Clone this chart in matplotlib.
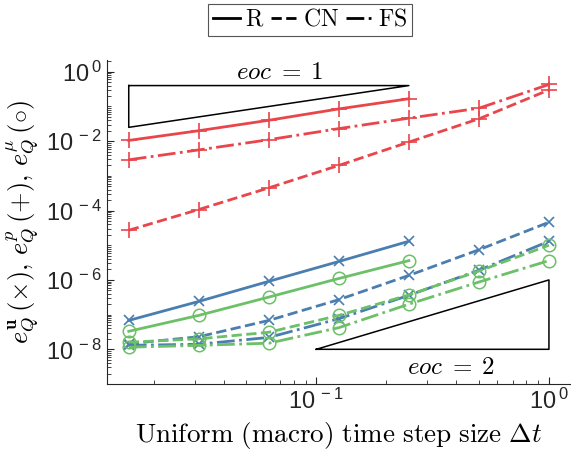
import numpy as np
import matplotlib
matplotlib.use('Agg')
import matplotlib.pyplot as plt
from matplotlib.font_manager import FontProperties
from matplotlib.ticker import FixedLocator, LogLocator, FuncFormatter, NullFormatter

# time step sizes
dt = [1/64, 1/32, 1/16, 1/8, 1/4, 1/2, 1]

# pressure errors (+)
p_R = [1.05e-2, 2.0e-2, 4.0e-2, 8.5e-2, 1.67e-1]
p_CN = [2.7e-5, 1.07e-4, 4.5e-4, 2.0e-3, 9.4e-3, 4.4e-2, 0.30]
p_FS = [2.9e-3, 5.6e-3, 1.1e-2, 2.3e-2, 4.6e-2, 8.9e-2, 0.43]

# velocity errors (x)
u_R = [6.8e-8, 2.4e-7, 9.1e-7, 3.4e-6, 1.3e-5]
u_CN = [1.45e-8, 2.3e-8, 6.8e-8, 2.7e-7, 1.35e-6, 7.4e-6, 4.6e-5]
u_FS = [1.3e-8, 1.4e-8, 2.2e-8, 7.6e-8, 3.6e-7, 1.9e-6, 1.3e-5]

# chemical potential errors (o)
mu_R = [3.3e-8, 9.5e-8, 3.2e-7, 1.1e-6, 3.6e-6]
mu_CN = [1.6e-8, 2.0e-8, 3.1e-8, 9.5e-8, 3.7e-7, 1.8e-6, 1.0e-5]
mu_FS = [1.15e-8, 1.3e-8, 1.5e-8, 4.2e-8, 2.0e-7, 8.7e-7, 3.6e-6]

# slope triangles
tri1_x = [1/64, 1/4, 1/64, 1/64]
tri1_y = [0.4, 0.4, 0.025, 0.4]
tri2_x = [0.1, 1, 1, 0.1]
tri2_y = [1e-8, 1e-8, 1e-6, 1e-8]

red = '#E8464B'
blue = '#4A7EB0'
green = '#6CC067'
axcol = '#262626'

plt.rcParams['font.family'] = ['Liberation Sans', 'DejaVu Sans']
cm = FontProperties(family='serif', math_fontfamily='cm', size=16)

fig = plt.figure(figsize=(5.71, 4.65), dpi=100)
ax = fig.add_axes([0.1874, 0.1742, 0.8106, 0.697])

lw = 2.0
ax.plot(dt[:5], p_R, '-', color=red, lw=lw, marker='+', ms=11, mew=1.2)
ax.plot(dt, p_CN, '--', color=red, lw=lw, marker='+', ms=11, mew=1.2)
ax.plot(dt, p_FS, '-.', color=red, lw=lw, marker='+', ms=11, mew=1.2)

ax.plot(dt[:5], u_R, '-', color=blue, lw=lw, marker='x', ms=7, mew=1.2)
ax.plot(dt, u_CN, '--', color=blue, lw=lw, marker='x', ms=7, mew=1.2)
ax.plot(dt, u_FS, '-.', color=blue, lw=lw, marker='x', ms=7, mew=1.2)

ax.plot(dt[:5], mu_R, '-', color=green, lw=lw, marker='o', ms=9, mfc='none', mew=1.1)
ax.plot(dt, mu_CN, '--', color=green, lw=lw, marker='o', ms=9, mfc='none', mew=1.1)
ax.plot(dt, mu_FS, '-.', color=green, lw=lw, marker='o', ms=9, mfc='none', mew=1.1)

ax.plot(tri1_x, tri1_y, 'k-', lw=1.1)
ax.plot(tri2_x, tri2_y, 'k-', lw=1.1)
ax.text(0.0695, 0.95, r'$eoc\;=\;1$', fontproperties=cm, fontsize=18,
        ha='center', va='center')
ax.text(0.38, 3e-9, r'$eoc\;=\;2$', fontproperties=cm, fontsize=18,
        ha='center', va='center')

ax.set_xscale('log')
ax.set_yscale('log')
ax.set_xlim(0.0126, 1.23)
ax.set_ylim(1e-9, 2.2)

ax.yaxis.set_major_locator(FixedLocator([1e-8, 1e-6, 1e-4, 1e-2, 1e0]))
ax.yaxis.set_minor_locator(LogLocator(base=10, subs=np.arange(1, 10), numticks=30))
ax.xaxis.set_major_locator(FixedLocator([1e-1, 1e0]))
ax.xaxis.set_minor_locator(LogLocator(base=10, subs=np.arange(1, 10), numticks=30))

fmt = FuncFormatter(lambda v, pos: r'$\mathregular{10^{\,%d}}$' % int(round(np.log10(v))))
ax.xaxis.set_major_formatter(fmt)
ax.yaxis.set_major_formatter(fmt)
ax.xaxis.set_minor_formatter(NullFormatter())
ax.yaxis.set_minor_formatter(NullFormatter())

ax.tick_params(which='both', direction='in', colors=axcol, labelsize=17)
ax.tick_params(which='major', length=5, width=0.8)
ax.tick_params(which='minor', length=3, width=0.6)
ax.spines['top'].set_visible(False)
ax.spines['right'].set_visible(False)
ax.spines['left'].set_color(axcol)
ax.spines['bottom'].set_color(axcol)

ax.set_xlabel(r'$\mathrm{Uniform\ (macro)\ time\ step\ size}\ \Delta t$',
              fontproperties=cm, fontsize=19.5, labelpad=4)
ax.set_ylabel(r'$e_Q^{\mathbf{u}}\,(\times),\, e_Q^{p}\,(+),\, e_Q^{\mu}\,(\circ)$',
              fontproperties=cm, fontsize=19, labelpad=3)

h1, = ax.plot([], [], 'k-', lw=2, label=r'$\mathrm{R}$')
h2, = ax.plot([], [], 'k--', lw=2, label=r'$\mathrm{CN}$')
h3, = ax.plot([], [], 'k-.', lw=2, label=r'$\mathrm{FS}$')
leg = fig.legend(handles=[h1, h2, h3], loc='center', bbox_to_anchor=(0.543, 0.957),
                 ncol=3, prop=FontProperties(math_fontfamily='cm', size=17),
                 handlelength=1.15, handletextpad=0.2, columnspacing=0.3,
                 borderpad=0.2, fancybox=False, framealpha=1, edgecolor='#555555')
leg.get_frame().set_linewidth(0.8)

fig.savefig('out.png', dpi=100)
